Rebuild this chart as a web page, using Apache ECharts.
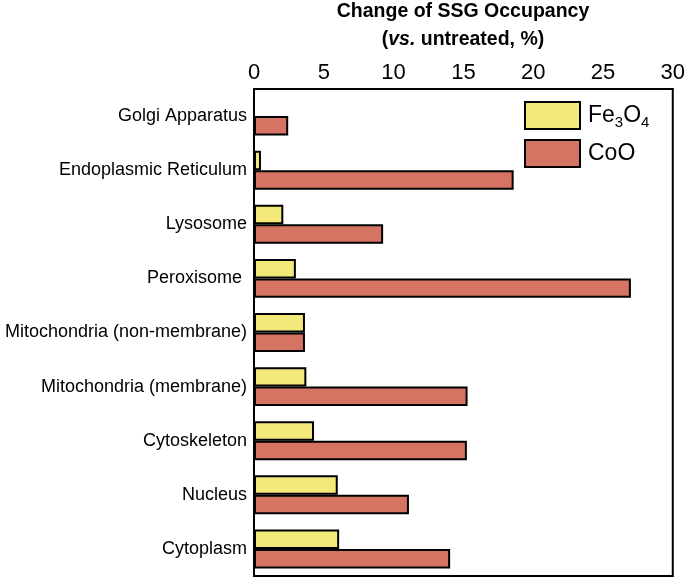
<!DOCTYPE html>
<html><head><meta charset="utf-8">
<script src="https://cdn.jsdelivr.net/npm/echarts@6/dist/echarts.min.js"></script>
<style>html,body{margin:0;padding:0;background:#fff}#c{width:688px;height:580px}</style>
</head><body><div id="c"></div>
<script>
const categories = ['Golgi Apparatus','Endoplasmic Reticulum','Lysosome','Peroxisome ','Mitochondria (non-membrane)','Mitochondria (membrane)','Cytoskeleton','Nucleus','Cytoplasm'];
const fe3o4 = [null, 0.5, 2.1, 3.0, 3.65, 3.75, 4.3, 6.0, 6.1];
const coo = [2.45, 18.6, 9.25, 27.0, 3.65, 15.3, 15.25, 11.1, 14.05];
const xTicks = {min: 0, max: 30, interval: 5};
const font = '"Liberation Sans", Arial, sans-serif';

const chart = echarts.init(document.getElementById('c'), null, {renderer: 'canvas'});
chart.setOption({
  backgroundColor: '#fff',
  animation: false,
  textStyle: {fontFamily: font},
  title: {
    left: 463, top: -2, textAlign: 'center', padding: 0,
    text: '{b|Change of SSG Occupancy}\n{b|(}{bi|vs.}{b| untreated, %)}',
    textStyle: {
      rich: {
        b: {fontFamily: font, fontWeight: 'bold', fontSize: 19.5, color: '#000', lineHeight: 28},
        bi: {fontFamily: font, fontWeight: 'bold', fontStyle: 'italic', fontSize: 19.5, color: '#000', lineHeight: 28}
      }
    }
  },
  legend: {
    left: 524, top: 101, orient: 'vertical', padding: 0,
    icon: 'rect',
    itemWidth: 55, itemHeight: 27, itemGap: 9,
    data: ['Fe3O4', 'CoO'],
    formatter: function (n) { return n === 'Fe3O4' ? '{t|Fe}{s|3}{t|O}{s|4}' : '{t|CoO}'; },
    textStyle: {
      padding: [0, 0, 0, 3],
      rich: {
        t: {fontFamily: font, fontSize: 23, color: '#000'},
        s: {fontFamily: font, fontSize: 15, color: '#000', padding: [14, 0, 0, 0]}
      }
    },
    itemStyle: {borderColor: '#000', borderWidth: 2}
  },
  grid: {left: 254, top: 89, right: 14.5, bottom: 4, show: true, borderColor: '#000', borderWidth: 2, backgroundColor: 'transparent'},
  xAxis: {
    type: 'value', position: 'top', min: xTicks.min, max: xTicks.max, interval: xTicks.interval,
    axisLine: {show: true, lineStyle: {color: '#000', width: 2}},
    axisTick: {show: false},
    splitLine: {show: false},
    axisLabel: {color: '#000', fontSize: 22, fontFamily: font, margin: 5}
  },
  yAxis: {
    type: 'category', inverse: true, data: categories,
    axisLine: {show: true, lineStyle: {color: '#000', width: 2}},
    axisTick: {show: false},
    axisLabel: {color: '#000', fontSize: 18, fontFamily: font, margin: 7}
  },
  series: [
    {name: 'Fe3O4', type: 'bar', data: fe3o4, barGap: '0%', barCategoryGap: '28%',
     itemStyle: {color: '#F3E97A', borderColor: '#000', borderWidth: 2}},
    {name: 'CoO', type: 'bar', data: coo,
     itemStyle: {color: '#D67463', borderColor: '#000', borderWidth: 2}}
  ]
});
</script></body></html>
